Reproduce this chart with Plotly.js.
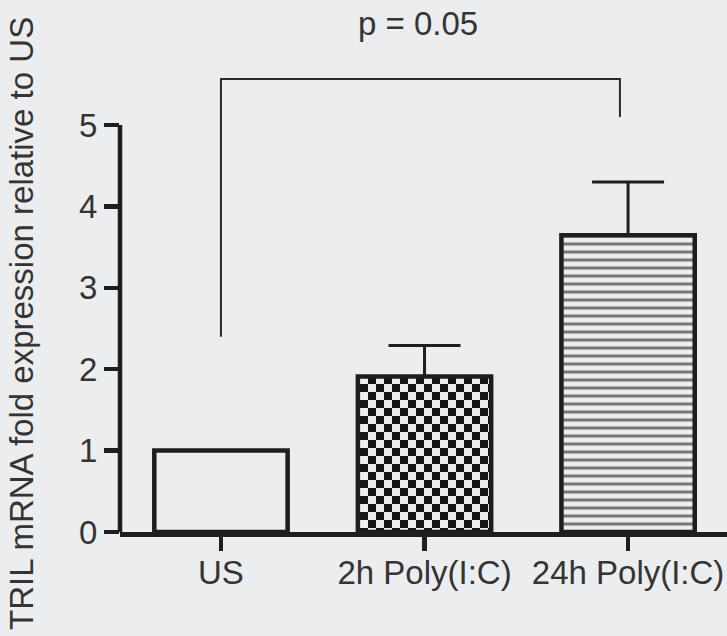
<!DOCTYPE html>
<html>
<head>
<meta charset="utf-8">
<script src="https://cdn.plot.ly/plotly-3.0.1.min.js"></script>
<style>
  html, body { margin: 0; padding: 0; background: #ecedef; }
  #chart { width: 727px; height: 636px; }
</style>
</head>
<body>
<div id="chart"></div>
<script>
// ---- data ----
const categories = ['US', '2h Poly(I:C)', '24h Poly(I:C)'];
const foldExpression = [1.0, 1.91, 3.645];
const errorUpper = [0, 0.38, 0.655];
const yTickValues = [0, 1, 2, 3, 4, 5];
const yTickLabels = ['0', '1', '2', '3', '4', '5'];
const bracketX = [0, 0, 1.96, 1.96];
const bracketY = [2.40, 5.565, 5.565, 5.10];
const pValueLabel = 'p = 0.05';
const yTitle = 'TRIL mRNA fold expression relative to US';

// ---- styles ----
const BG = '#ecedef';
const INK = '#1e1e1e';
const TEXT = '#343434';
const FONT = 'Liberation Sans, Arial, Helvetica, sans-serif';
const FS = 33;
const positions = categories.map((c, i) => i);

const bars = {
  type: 'bar',
  x: positions,
  y: foldExpression,
  width: 0.655,
  marker: {
    color: BG,
    line: { color: INK, width: 4.5 },
    pattern: {
      shape: ['', '.', '-'],
      size: [8, 16, 8],
      solidity: [0.3, 0.5, 0.375],
      fgcolor: '#000000',
      bgcolor: BG,
      fillmode: 'overlay'
    }
  },
  error_y: {
    type: 'data',
    symmetric: false,
    array: errorUpper,
    arrayminus: [0, 0, 0],
    color: INK,
    thickness: 3,
    width: 36
  },
  hoverinfo: 'skip',
  showlegend: false
};

const bracket = {
  type: 'scatter',
  mode: 'lines',
  x: bracketX,
  y: bracketY,
  line: { color: '#2a2a2a', width: 2 },
  hoverinfo: 'skip',
  showlegend: false
};

const layout = {
  width: 727,
  height: 636,
  margin: { l: 120, r: 0, t: 0, b: 104 },
  paper_bgcolor: BG,
  plot_bgcolor: BG,
  font: { family: FONT, color: TEXT, size: FS },
  showlegend: false,
  xaxis: {
    type: 'linear',
    range: [-0.496, 2.486],
    tickmode: 'array',
    tickvals: positions,
    ticktext: categories,
    ticks: 'outside',
    ticklen: 14,
    tickwidth: 4.5,
    tickcolor: INK,
    ticklabelstandoff: -6,
    showline: true,
    linecolor: INK,
    linewidth: 4.5,
    showgrid: false,
    zeroline: false,
    tickfont: { family: FONT, size: FS, color: TEXT },
    fixedrange: true
  },
  yaxis: {
    range: [0, 6.536],
    tickmode: 'array',
    tickvals: yTickValues,
    ticktext: yTickLabels,
    ticks: 'outside',
    ticklen: 15,
    tickwidth: 4.5,
    tickcolor: INK,
    showline: false,
    showgrid: false,
    zeroline: false,
    tickfont: { family: FONT, size: FS, color: TEXT },
    fixedrange: true
  },
  shapes: [
    {
      type: 'line', xref: 'paper', yref: 'y',
      x0: 0, x1: 0, y0: 0, y1: yTickValues[yTickValues.length - 1],
      line: { color: INK, width: 4.5 }
    }
  ],
  annotations: [
    {
      text: pValueLabel,
      xref: 'x', yref: 'y',
      x: 0.968, y: 6.25,
      xanchor: 'center', yanchor: 'middle',
      showarrow: false,
      font: { family: FONT, size: FS, color: TEXT }
    },
    {
      text: yTitle,
      xref: 'paper', yref: 'paper',
      x: -0.1614, y: 0.391,
      xanchor: 'center', yanchor: 'middle',
      textangle: -90,
      showarrow: false,
      font: { family: FONT, size: FS, color: TEXT }
    }
  ]
};

Plotly.newPlot('chart', [bars, bracket], layout, { staticPlot: true, displayModeBar: false }).then(function (gd) {
  // turn the dotted fill into a checkerboard (style only)
  const ns = 'http://www.w3.org/2000/svg';
  const cell = 8;
  gd.querySelectorAll('pattern').forEach(function (p) {
    if (!p.querySelector('circle')) return;
    p.setAttribute('width', 2 * cell);
    p.setAttribute('height', 2 * cell);
    while (p.firstChild) p.removeChild(p.firstChild);
    function mk(x, y, w, h, f) {
      const r = document.createElementNS(ns, 'rect');
      r.setAttribute('x', x); r.setAttribute('y', y);
      r.setAttribute('width', w); r.setAttribute('height', h);
      r.setAttribute('fill', f);
      p.appendChild(r);
    }
    mk(0, 0, 2 * cell, 2 * cell, BG);
    mk(0, 0, cell, cell, '#151515');
    mk(cell, cell, cell, cell, '#151515');
  });
});
</script>
</body>
</html>
